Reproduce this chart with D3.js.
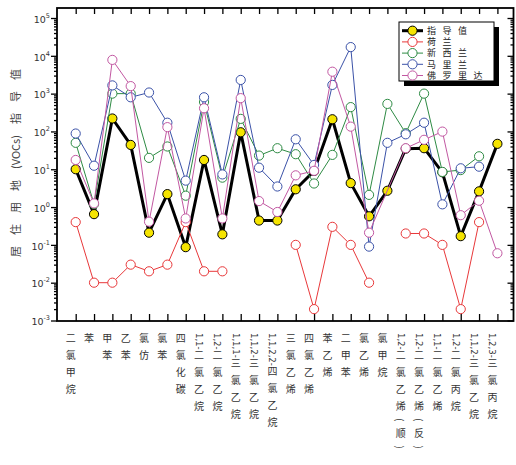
<!DOCTYPE html>
<html>
<head>
<meta charset="utf-8">
<script src="https://cdn.jsdelivr.net/npm/d3@7"></script>
<style>
body { margin: 0; background: #fff; }
svg { display: block; font-family: "Noto Sans CJK SC", "DejaVu Sans", sans-serif; }
</style>
</head>
<body>
<svg id="chart" width="516" height="465"></svg>
<script>
// categories (VOCs)
const categories = ["二氯甲烷", "苯", "甲苯", "乙苯", "氯仿", "氯苯", "四氯化碳", "1,1-二氯乙烷",
	"1,2-二氯乙烷", "1,1,1-三氯乙烷", "1,1,2-三氯乙烷", "1,1,2,2-四氯乙烷", "三氯乙烯", "四氯乙烯",
	"苯乙烯", "二甲苯", "氯乙烯", "氯甲烷", "1,2-二氯乙烯(顺)", "1,2-二氯乙烯(反)", "1,1-二氯乙烯",
	"1,2-二氯丙烷", "1,1,2-三氯乙烷", "1,2,3-三氯丙烷"];

// values, null = no value
const guide = [10, 0.65, 220, 44, 0.21, 2.2, 0.087, 17.6, 0.19, 95, 0.44, 0.44, 2.95, 9, 210, 4.3, 0.57, 2.7, 35, 36, 8.3, 0.17, 2.6, 47];
const netherlands = [0.4, 0.01, 0.01, 0.03, 0.02, 0.03, 0.4, 0.02, 0.02, null, null, null, 0.1, 0.002, 0.3, 0.1, 0.01, null, 0.2, 0.2, 0.1, 0.002, 0.4, null];
const newZealand = [50, 1.2, 1000, 1000, 20, 40, 2, 600, 6, 215, 23, 36, 25, 4.2, 24, 440, 2.1, 535, 90, 1000, 8.5, 9.5, 22, null];
const maryland = [88, 12.4, 1650, 800, 1070, 170, 5, 800, 7.3, 2300, 11, 3.5, 62, 13, 1700, 17000, 0.09, 50, 84, 170, 1.18, 10.6, 11.7, null];
const florida = [17.6, 1.25, 7800, 1580, 0.41, 130, 0.5, 410, 0.5, 760, 1.44, 0.74, 6.9, 9.1, 3800, 134, 0.21, null, 36, 60, 99, 0.61, 1.47, 0.06];

const seriesNames = ["指导值", "荷兰", "新西兰", "马里兰", "佛罗里达"];
const yTickExps = [-3, -2, -1, 0, 1, 2, 3, 4, 5];

const series = [
	{ name: seriesNames[0], values: guide, color: "#000", fill: "#f5e400", width: 3, connect: true },
	{ name: seriesNames[1], values: netherlands, color: "#e8383a", fill: "#fff", width: 1, connect: false },
	{ name: seriesNames[2], values: newZealand, color: "#2e8b44", fill: "#fff", width: 1, connect: true },
	{ name: seriesNames[3], values: maryland, color: "#3b52a8", fill: "#fff", width: 1, connect: true },
	{ name: seriesNames[4], values: florida, color: "#c258a2", fill: "#fff", width: 1, connect: true }
];

const svg = d3.select("#chart");
const frame = { left: 57, right: 513.5, top: 8, bottom: 321 };

var x = d3.scaleLinear().domain([0, categories.length - 1]).range([75.7, 497.4]);
var y = d3.scaleLog().domain([1e-3, 1e5]).range([320.5, 18]);

const majors = yTickExps.map(e => Math.pow(10, e));
const minors = [];
yTickExps.slice(0, -1).forEach(e => {
	for (let k = 2; k < 10; k++) minors.push(k * Math.pow(10, e));
});

// axes
const gAxes = svg.append("g").attr("stroke-width", 1.3);

// left: major + minor, ticks outward
gAxes.append("g")
	.attr("transform", `translate(${frame.left},0)`)
	.call(d3.axisLeft(y).tickValues(minors).tickSize(3).tickFormat(""))
	.call(g => g.select(".domain").remove());
const yLeft = gAxes.append("g")
	.attr("transform", `translate(${frame.left},0)`)
	.call(d3.axisLeft(y).tickValues(majors).tickSize(6).tickPadding(5))
	.call(g => g.select(".domain").remove());
yLeft.selectAll(".tick text").each(function(d) {
	const t = d3.select(this).text(null)
		.attr("font-size", 9.5).attr("fill", "#333").attr("dy", "0.45em")
		.attr("font-family", "'DejaVu Sans', sans-serif");
	t.append("tspan").text("10");
	t.append("tspan").attr("dy", -5).attr("font-size", 6.5).text(Math.round(Math.log10(d)));
});
yLeft.selectAll(".tick text").attr("dx", 4);

// right: ticks inward
gAxes.append("g")
	.attr("transform", `translate(${frame.right},0)`)
	.call(d3.axisRight(y).tickValues(minors).tickSize(-3).tickFormat(""))
	.call(g => g.select(".domain").remove());
gAxes.append("g")
	.attr("transform", `translate(${frame.right},0)`)
	.call(d3.axisRight(y).tickValues(majors).tickSize(-6).tickFormat(""))
	.call(g => g.select(".domain").remove());

// top and bottom: ticks inward at each category
const idx = d3.range(categories.length);
gAxes.append("g")
	.attr("transform", `translate(0,${frame.top})`)
	.call(d3.axisTop(x).tickValues(idx).tickSize(-6).tickFormat(""))
	.call(g => g.select(".domain").remove());
gAxes.append("g")
	.attr("transform", `translate(0,${frame.bottom})`)
	.call(d3.axisBottom(x).tickValues(idx).tickSize(-7).tickFormat(""))
	.call(g => g.select(".domain").remove());

svg.append("rect")
	.attr("x", frame.left).attr("y", frame.top)
	.attr("width", frame.right - frame.left).attr("height", frame.bottom - frame.top)
	.attr("fill", "none").attr("stroke", "#000").attr("stroke-width", 1.8);

// x labels, vertical text
const labels = svg.append("g").attr("fill", "#333").attr("font-size", 10);
categories.forEach((c, i) => {
	const m = c.match(/^[0-9,\-]*/)[0];
	const t = labels.append("text")
		.attr("x", x(i) - 5)
		.attr("y", 333)
		.style("writing-mode", "vertical-rl")
		.style("text-orientation", "mixed");
	if (m) t.append("tspan").attr("font-family", "'DejaVu Sans', sans-serif").attr("font-size", 8.5).text(m);
	t.append("tspan").attr("letter-spacing", 7).text(c.slice(m.length));
});

// y title
svg.append("text")
	.attr("transform", "translate(20,163) rotate(-90)")
	.attr("text-anchor", "middle")
	.attr("font-size", 11)
	.attr("fill", "#444")
	.text("居　住　用　地　(VOCs)　指　导　值");

// lines and markers
const plot = svg.append("g");
series.forEach(s => {
	let pts = s.values.map((v, i) => ({ i: i, v: v }));
	const line = d3.line()
		.defined(d => d.v != null)
		.x(d => x(d.i))
		.y(d => y(d.v));
	const linePts = s.connect ? pts.filter(d => d.v != null) : pts;
	const g = plot.append("g");
	g.append("path")
		.attr("d", line(linePts))
		.attr("fill", "none")
		.attr("stroke", s.color)
		.attr("stroke-width", s.width)
		.attr("stroke-linejoin", "round");
	g.selectAll("circle")
		.data(pts.filter(d => d.v != null))
		.join("circle")
		.attr("cx", d => x(d.i))
		.attr("cy", d => y(d.v))
		.attr("r", 4.6)
		.attr("fill", s.fill)
		.attr("stroke", s.color)
		.attr("stroke-width", 1);
});

// legend
const lg = { x: 399, y: 22, w: 95, h: 59 };
svg.append("rect").attr("x", lg.x + 5).attr("y", lg.y + 5).attr("width", lg.w).attr("height", lg.h).attr("fill", "#000");
svg.append("rect").attr("x", lg.x).attr("y", lg.y).attr("width", lg.w).attr("height", lg.h)
	.attr("fill", "#fff").attr("stroke", "#000").attr("stroke-width", 1);
const legend = svg.append("g");
series.forEach((s, i) => {
	const ly = 30.7 + i * 11.2;
	const row = legend.append("g");
	row.append("line").attr("x1", 402).attr("x2", 423).attr("y1", ly).attr("y2", ly)
		.attr("stroke", s.color).attr("stroke-width", s.width);
	row.append("circle").attr("cx", 412.5).attr("cy", ly).attr("r", 4.6)
		.attr("fill", s.fill).attr("stroke", s.color);
	row.append("text").attr("x", 427).attr("y", ly).attr("dy", "0.36em")
		.attr("font-size", 9).attr("letter-spacing", 6.5).attr("fill", "#222")
		.text(s.name);
});
</script>
</body>
</html>
